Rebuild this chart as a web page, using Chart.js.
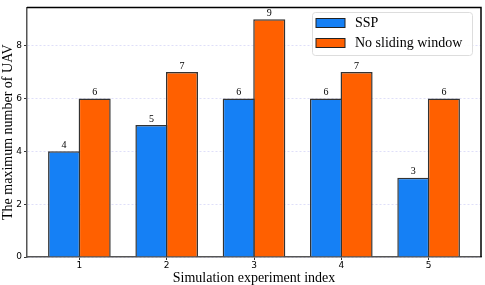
<!DOCTYPE html>
<html>
<head>
<meta charset="utf-8">
<script src="https://cdn.jsdelivr.net/npm/chart.js@4.4.1/dist/chart.umd.min.js"></script>
<style>
  html, body { margin: 0; padding: 0; background: #fff; }
  #wrap { width: 485px; height: 285px; }
</style>
</head>
<body>
<div id="wrap"><canvas id="barChart"></canvas></div>
<script>
const experiments = [1, 2, 3, 4, 5];
const sspValues = [4, 5, 6, 6, 3];
const noWindowValues = [6, 7, 9, 7, 6];
const yTicks = [0, 2, 4, 6, 8];
const seriesNames = ['SSP', 'No sliding window'];

// value labels above each bar + black frame + inside legend
const extras = {
    id: 'extras',
    afterDatasetsDraw(chart) {
        const ctx = chart.ctx;
        ctx.save();
        ctx.font = '10px "Liberation Serif"';
        ctx.fillStyle = '#000';
        ctx.textAlign = 'center';
        ctx.textBaseline = 'bottom';
        chart.data.datasets.forEach((ds, i) => {
            chart.getDatasetMeta(i).data.forEach((bar, j) => {
                ctx.fillText(ds.data[j].y, bar.x, bar.y - 1);
            });
        });
        ctx.restore();
    },
    afterDraw(chart) {
        const ctx = chart.ctx;
        const a = chart.chartArea;
        ctx.save();
        ctx.strokeStyle = '#000';
        ctx.lineWidth = 1.5;
        ctx.beginPath();
        ctx.moveTo(a.left, a.top);
        ctx.lineTo(a.right, a.top);
        ctx.lineTo(a.right, a.bottom);
        ctx.stroke();

        // legend box
        const bx = 312, by = 12, bw = 160, bh = 43;
        ctx.fillStyle = 'rgba(255,255,255,0.9)';
        ctx.strokeStyle = '#ddd';
        ctx.lineWidth = 1;
        ctx.beginPath();
        ctx.roundRect(bx + 0.5, by + 0.5, bw, bh, 3);
        ctx.fill();
        ctx.stroke();
        ctx.font = '14px "Liberation Serif"';
        ctx.textBaseline = 'middle';
        ctx.textAlign = 'left';
        chart.data.datasets.forEach((ds, i) => {
            const cy = by + 11 + i * 20;
            ctx.fillStyle = ds.backgroundColor;
            ctx.fillRect(bx + 4, cy - 4.5, 29, 9);
            ctx.strokeStyle = '#222';
            ctx.lineWidth = 1;
            ctx.strokeRect(bx + 4, cy - 4.5, 29, 9);
            ctx.fillStyle = '#000';
            ctx.fillText(ds.label, bx + 43, cy + 0.5);
        });
        ctx.restore();
    }
};

const ctx = document.getElementById('barChart').getContext('2d');
new Chart(ctx, {
    type: 'bar',
    data: {
        datasets: [{
            label: seriesNames[0],
            data: experiments.map((x, i) => ({ x: x, y: sspValues[i] })),
            backgroundColor: '#1580F5',
            borderColor: '#333',
            borderWidth: 1.5,
        }, {
            label: seriesNames[1],
            data: experiments.map((x, i) => ({ x: x, y: noWindowValues[i] })),
            backgroundColor: '#FF6000',
            borderColor: '#333',
            borderWidth: 1.5,
        }],
    },
    options: {
        responsive: true,
        maintainAspectRatio: false,
        animation: false,
        categoryPercentage: 0.7,
        barPercentage: 1.05,
        layout: { padding: { top: 4, right: 4, left: 0, bottom: 0 } },
        plugins: {
            legend: { display: false },
            tooltip: { enabled: false },
        },
        scales: {
            x: {
                type: 'linear',
                offset: false,
                min: 0.4,
                max: 5.6,
                afterBuildTicks: (s) => { s.ticks = experiments.map(v => ({ value: v })); },
                afterFit: (s) => { s.height = 28; },
                grid: { offset: false, drawOnChartArea: false, tickLength: 3, tickColor: '#333' },
                border: { color: '#555', width: 1.5 },
                ticks: { color: '#000', font: { family: 'DejaVu Sans', size: 9 }, padding: 0 },
                title: {
                    display: true,
                    text: 'Simulation experiment index',
                    color: '#000',
                    font: { family: 'Liberation Serif', size: 14, lineHeight: 1.0 },
                    padding: { top: 1, bottom: 0 },
                },
            },
            y: {
                min: 0,
                max: 9.45,
                afterBuildTicks: (s) => { s.ticks = yTicks.map(v => ({ value: v })); },
                afterFit: (s) => { s.width = 27; },
                grid: { color: 'rgba(175,175,240,0.4)', tickLength: 3, tickColor: '#333' },
                border: { color: '#555', width: 1.5, dash: [2, 2] },
                ticks: { color: '#000', font: { family: 'DejaVu Sans', size: 9 }, padding: 2 },
                title: {
                    display: true,
                    text: 'The maximum number of UAV',
                    color: '#000',
                    font: { family: 'Liberation Serif', size: 14 },
                    padding: { top: 0, bottom: 0 },
                },
            },
        },
    },
    plugins: [extras],
});
</script>
</body>
</html>
